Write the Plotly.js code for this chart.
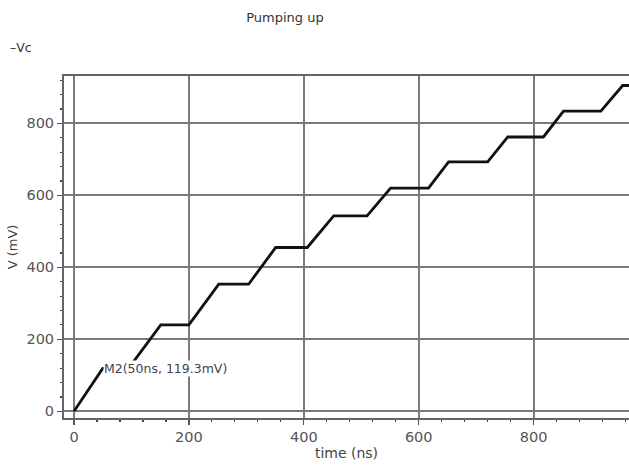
<!DOCTYPE html>
<html>
<head>
<meta charset="utf-8">
<script src="https://cdn.plot.ly/plotly-3.0.1.min.js"></script>
<style>html,body{margin:0;padding:0;background:#fff;}#chart{width:629px;height:465px;}</style>
</head>
<body>
<div id="chart"></div>
<script>
// Data
var timeNs = [0, 50, 95, 151, 200, 252, 304, 351, 406, 452, 510, 551, 617, 652, 720, 755, 817, 852, 917, 955, 966];
var vcMv   = [0, 119.3, 119.3, 240, 240, 353, 353, 455, 455, 543, 543, 620, 620, 693, 693, 762, 762, 834, 834, 905, 905];
var seriesName = "Vc";
var markerLabel = "M2(50ns, 119.3mV)";
var markerX = 50, markerY = 119.3;
var xTicks = [0, 200, 400, 600, 800];
var yTicks = [0, 200, 400, 600, 800];

var font = "DejaVu Sans, Verdana, sans-serif";
var trace = {
  x: timeNs, y: vcMv, type: "scatter", mode: "lines", name: seriesName,
  line: {color: "#111", width: 2.8}, showlegend: false
};
var axisCommon = {
  showline: true, linecolor: "#666", linewidth: 2,
  showgrid: true, gridcolor: "#7a7a7a", gridwidth: 2,
  zeroline: false, ticks: "outside", ticklen: 5, tickcolor: "#555", tickwidth: 1.2,
  tickfont: {family: font, size: 14.5, color: "#555"},
  minor: {ticks: "outside", ticklen: 2, dtick: 40, tick0: 0, tickcolor: "#444", showgrid: false}
};
var layout = {
  width: 629, height: 465, autosize: false,
  paper_bgcolor: "#fff", plot_bgcolor: "#fff",
  margin: {l: 64, r: 0, t: 76, b: 47, pad: 0},
  title: {text: "Pumping up", x: 0.453, xref: "container", xanchor: "center",
          y: 1 - 17/465, yref: "container", yanchor: "middle",
          font: {family: font, size: 13, color: "#333"}},
  xaxis: Object.assign({}, axisCommon, {
    range: [-17.4, 966], tickvals: xTicks, mirror: true,
    title: {text: "time (ns)", standoff: 4, font: {family: font, size: 14, color: "#444"}}
  }),
  yaxis: Object.assign({}, axisCommon, {
    range: [-18.6, 931.4], tickvals: yTicks,
    title: {text: "V (mV)", standoff: 6, font: {family: font, size: 13, color: "#444"}}
  }),
  annotations: [
    {x: markerX, y: markerY, xref: "x", yref: "y", text: markerLabel, showarrow: false,
     xanchor: "left", yanchor: "middle", bgcolor: "#fff", borderpad: 0,
     font: {family: font, size: 12.5, color: "#444"}},
    {x: (8 - 64) / (629 - 64), y: (465 - 47 - 47) / (465 - 76 - 47), xref: "paper", yref: "paper",
     text: "\u2013" + seriesName, showarrow: false, xanchor: "left", yanchor: "middle",
     font: {family: font, size: 12.5, color: "#333"}}
  ]
};
Plotly.newPlot("chart", [trace], layout, {displayModeBar: false, staticPlot: true});
</script>
</body>
</html>
